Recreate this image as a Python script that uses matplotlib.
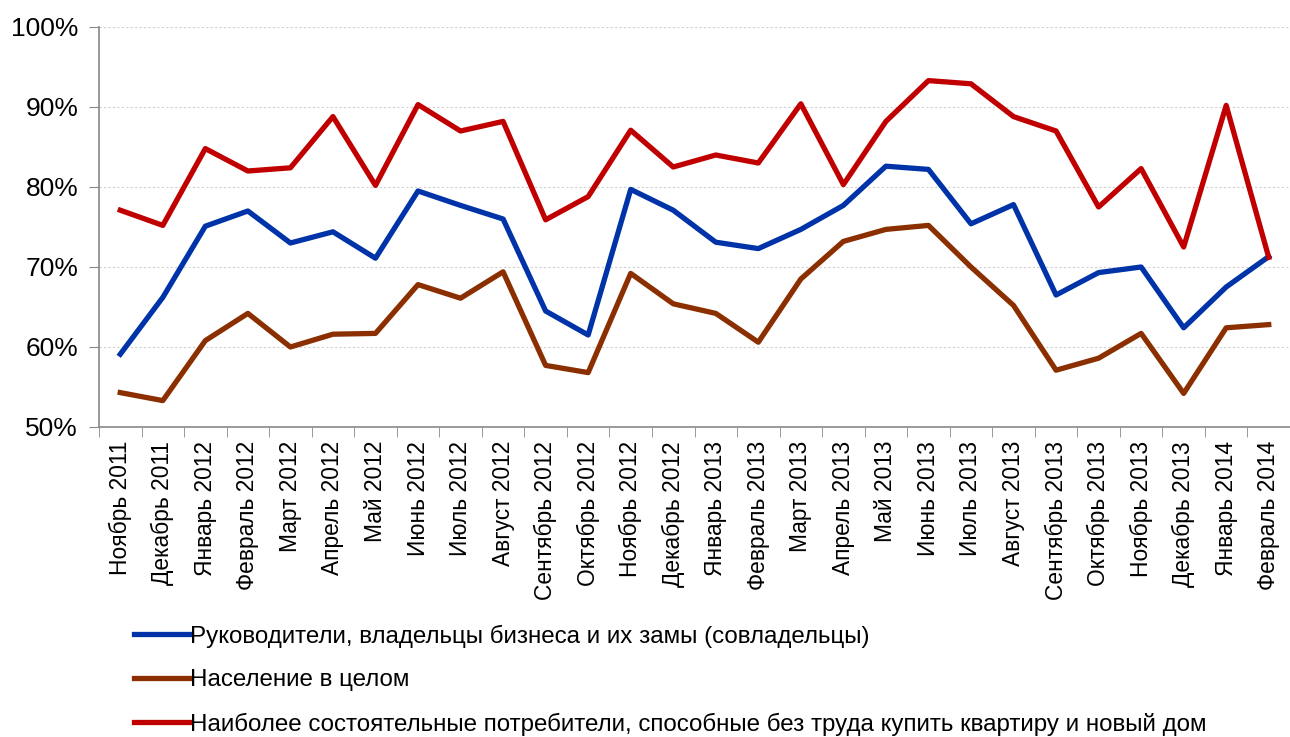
import numpy as np
import matplotlib.pyplot as plt
from matplotlib.ticker import FixedLocator, PercentFormatter

plt.rcParams['font.family'] = ['Liberation Sans', 'DejaVu Sans']

months = ['Ноябрь 2011', 'Декабрь 2011', 'Январь 2012', 'Февраль 2012', 'Март 2012',
          'Апрель 2012', 'Май 2012', 'Июнь 2012', 'Июль 2012', 'Август 2012',
          'Сентябрь 2012', 'Октябрь 2012', 'Ноябрь 2012', 'Декабрь 2012', 'Январь 2013',
          'Февраль 2013', 'Март 2013', 'Апрель 2013', 'Май 2013', 'Июнь 2013',
          'Июль 2013', 'Август 2013', 'Сентябрь 2013', 'Октябрь 2013', 'Ноябрь 2013',
          'Декабрь 2013', 'Январь 2014', 'Февраль 2014']

# managers / business owners
managers = [59.1, 66.2, 75.1, 77.0, 73.0, 74.4, 71.1, 79.5, 77.7, 76.0,
            64.5, 61.5, 79.7, 77.1, 73.1, 72.3, 74.7, 77.7, 82.6, 82.2,
            75.4, 77.8, 66.5, 69.3, 70.0, 62.4, 67.5, 71.3]
# population overall
population = [54.3, 53.3, 60.8, 64.2, 60.0, 61.6, 61.7, 67.8, 66.1, 69.4,
              57.7, 56.8, 69.2, 65.4, 64.2, 60.6, 68.5, 73.2, 74.7, 75.2,
              70.0, 65.2, 57.1, 58.6, 61.7, 54.2, 62.4, 62.8]
# wealthiest consumers
wealthy = [77.1, 75.2, 84.8, 82.0, 82.4, 88.8, 80.2, 90.3, 87.0, 88.2,
           75.9, 78.8, 87.1, 82.5, 84.0, 83.0, 90.4, 80.3, 88.2, 93.3,
           92.9, 88.8, 87.0, 77.5, 82.3, 72.5, 90.2, 71.2]

labels = ['Руководители, владельцы бизнеса и их замы (совладельцы)',
          'Население в целом',
          'Наиболее состоятельные потребители, способные без труда купить квартиру и новый дом']

fig = plt.figure(figsize=(12.9, 7.37), dpi=100)
ax = fig.add_axes([99 / 1290, 1 - 427 / 737, 1 - 99 / 1290, 400 / 737])

x = np.arange(len(months))
ax.plot(x, managers, color='#0033A8', lw=3.8, label=labels[0])
ax.plot(x, population, color='#8B2F00', lw=3.8, label=labels[1])
ax.plot(x, wealthy, color='#C00000', lw=3.8, label=labels[2])

ax.set_xlim(-0.5, len(months) - 0.5)
ax.set_ylim(50, 100)
ax.set_yticks(np.arange(50, 101, 10))
ax.yaxis.set_major_formatter(PercentFormatter(decimals=0))
ax.grid(axis='y', color='#d0d0d0', ls=(0, (2, 2)), lw=0.8)
ax.set_axisbelow(True)

ax.set_xticks(x)
ax.set_xticklabels(months, rotation=90, fontsize=16.4)
ax.tick_params(axis='x', which='major', length=0, pad=10)
ax.xaxis.set_minor_locator(FixedLocator(np.arange(-0.5, len(months), 1)))
ax.tick_params(axis='x', which='minor', length=7, color='#888888')
ax.tick_params(axis='y', labelsize=19, length=7, color='#888888', pad=8)

for s in ['top', 'right']:
    ax.spines[s].set_visible(False)
for s in ['left', 'bottom']:
    ax.spines[s].set_color('#888888')
    ax.spines[s].set_linewidth(1.2)

leg = fig.legend(loc='upper left', bbox_to_anchor=(124 / 1290, 1 - 615 / 737),
                 frameon=False, fontsize=17.4, handlelength=2.3, handletextpad=0.05,
                 labelspacing=0.88, borderaxespad=0)

fig.savefig('out.png', dpi=100)
